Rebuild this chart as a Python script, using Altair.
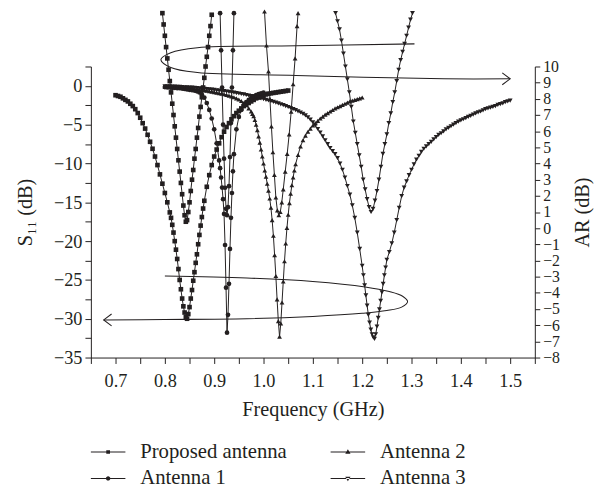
import altair as alt
import pandas as pd

INK = "#231f20"
FONT = "Liberation Serif"


def grid(a, b, step):
    n = int(round((b - a) / step)) + 1
    return [round(a + i * step, 4) for i in range(n)]


NAMES = ["Proposed antenna", "Antenna 1", "Antenna 2", "Antenna 3"]

# ---------------- S11 (dB), left axis ----------------
prop_s11_f = grid(0.700, 0.810, 0.005) + grid(0.8125, 0.8775, 0.0025) + grid(0.880, 1.050, 0.005)
prop_s11 = [-1.2, -1.3, -1.4, -1.6, -1.8, -2.0, -2.3, -2.6, -3.0, -3.5,
            -4.1, -4.8, -5.5, -6.3, -7.2, -8.1, -9.1, -10.2, -11.4, -12.6,
            -13.8, -15.0, -16.3,
            -17.0, -17.9, -18.9, -20.0, -21.1, -22.3, -23.6, -25.0, -26.2, -27.4,
            -28.4, -29.2, -29.8, -30.0, -29.4, -28.5, -27.4, -26.3, -25.1, -24.0,
            -22.8, -21.7, -20.4, -19.2, -18.0, -16.9, -15.8,
            -14.8, -13.0, -11.5, -10.2, -9.1, -8.2, -7.4, -6.6, -5.9, -5.3,
            -4.8, -4.3, -3.9, -3.5, -3.2, -2.9, -2.6, -2.4, -2.2, -2.0,
            -1.8, -1.6, -1.5, -1.35, -1.2, -1.1, -1.0, -0.95, -0.9, -0.85,
            -0.8, -0.75, -0.7, -0.65, -0.6]

ant1_s11_f = grid(0.800, 0.910, 0.005) + grid(0.912, 0.940, 0.002) + grid(0.945, 1.000, 0.005)
ant1_s11 = [-0.15, -0.2, -0.2, -0.25, -0.25, -0.3, -0.3, -0.35, -0.4, -0.45,
            -0.5, -0.55, -0.6, -0.7, -0.85, -1.1, -1.5, -2.2, -3.1, -4.2,
            -5.6, -7.4, -9.6,
            -10.6, -11.8, -13.1, -14.6, -16.5, -20.5, -26.0, -31.8, -29.5, -25.5,
            -21.0, -17.0, -13.8, -11.0, -8.8,
            -5.6, -4.0, -3.1, -2.5, -2.1, -1.8, -1.55, -1.35, -1.2, -1.05,
            -0.95, -0.85]

ant2_s11_f = grid(0.800, 0.975, 0.005) + grid(0.9775, 1.0625, 0.0025) + grid(1.065, 1.200, 0.005)
ant2_s11 = [-0.1, -0.12, -0.14, -0.16, -0.18, -0.2, -0.22, -0.25, -0.28, -0.3,
            -0.33, -0.36, -0.4, -0.44, -0.48, -0.52, -0.57, -0.62, -0.68, -0.74,
            -0.8, -0.87, -0.94, -1.0, -1.08, -1.16, -1.25, -1.35, -1.46, -1.6,
            -1.75, -1.95, -2.2, -2.5, -2.9, -3.3,
            -3.6, -3.9, -4.4, -5.0, -5.7, -6.5, -7.3, -8.2, -9.1, -10.0,
            -10.9, -11.7, -12.6, -13.5, -14.5, -15.7, -17.3, -19.3, -21.8, -24.5,
            -27.5, -30.3, -32.3, -30.6, -27.9, -25.2, -22.6, -20.3, -18.3, -16.6,
            -15.1, -13.9, -12.8, -11.8, -10.9,
            -10.1, -8.9, -7.8, -7.0, -6.4, -5.9, -5.5, -5.1, -4.8, -4.5,
            -4.2, -3.95, -3.7, -3.5, -3.3, -3.1, -2.9, -2.75, -2.6, -2.45,
            -2.3, -2.15, -2.0, -1.9, -1.8, -1.7, -1.6, -1.5]

ant3_s11_f = grid(0.800, 1.200, 0.005) + grid(1.2025, 1.2475, 0.0025) + grid(1.250, 1.500, 0.005)
ant3_s11 = [-0.05, -0.06, -0.07, -0.08, -0.10, -0.11, -0.13, -0.15, -0.17, -0.19,
            -0.21, -0.23, -0.25, -0.28, -0.31, -0.34, -0.37, -0.40, -0.44, -0.48,
            -0.52, -0.56, -0.60, -0.64, -0.68, -0.72, -0.77, -0.82, -0.87, -0.92,
            -0.98, -1.04, -1.10, -1.17, -1.24, -1.31, -1.38, -1.46, -1.54, -1.62,
            -1.70, -1.79, -1.88, -1.97, -2.06, -2.16, -2.26, -2.37, -2.48, -2.60,
            -2.72, -2.85, -2.98, -3.12, -3.27, -3.43, -3.60, -3.80, -4.05, -4.35,
            -4.70, -5.10, -5.55, -6.00, -6.50, -7.00, -7.50, -8.00, -8.40, -8.80,
            -9.30, -10.0, -10.8, -11.8, -12.9, -14.0, -15.4, -17.0, -18.9, -21.0,
            -23.2,
            -24.4, -25.7, -27.0, -28.3, -29.5, -30.5, -31.4, -32.0, -32.4, -32.6,
            -32.0, -31.0, -29.9, -28.8, -27.7, -26.6, -25.5, -24.4, -23.4,
            -22.4, -21.4, -20.3, -18.9, -17.3, -15.7, -14.2, -13.1, -12.3, -11.5,
            -10.8, -10.1, -9.5, -9.0, -8.5, -8.1, -7.8, -7.5, -7.2, -6.9,
            -6.6, -6.3, -6.1, -5.85, -5.6, -5.4, -5.2, -5.0, -4.8, -4.6,
            -4.45, -4.3, -4.15, -4.0, -3.85, -3.7, -3.55, -3.4, -3.3, -3.15,
            -3.0, -2.9, -2.8, -2.7, -2.6, -2.45, -2.35, -2.25, -2.1, -2.0,
            -1.9]

# ---------------- AR (dB), right axis ----------------
prop_ar_f = grid(0.795, 0.895, 0.0025)
prop_ar = [13.3, 12.6, 11.9, 11.2, 10.5, 9.8, 9.1, 8.4, 7.7, 7.0,
           6.3, 5.6, 4.9, 4.2, 3.5, 2.8, 2.1, 1.4, 0.8, 0.4,
           0.5, 1.0, 1.6, 2.3, 3.0, 3.6, 4.3, 4.9, 5.6, 6.2,
           6.9, 7.5, 8.1, 8.7, 9.3, 10.0, 10.6, 11.2, 11.9, 12.5,
           13.2]

ant1_ar_f = grid(0.912, 0.940, 0.002)
ant1_ar = [13.3, 11.0, 8.7, 6.4, 4.3, 2.5, 1.2, 0.8, 1.3, 2.6, 4.4, 6.5, 8.7, 11.0, 13.3]

ant2_ar_f = [1.002, 1.006, 1.010, 1.013, 1.016, 1.019, 1.022, 1.025, 1.028, 1.031,
             1.034, 1.037, 1.040, 1.044, 1.048, 1.052, 1.056, 1.060, 1.064, 1.068, 1.070]
ant2_ar = [13.4, 11.3, 9.7, 8.0, 6.3, 4.7, 3.3, 1.9, 1.1, 0.8,
           1.0, 1.6, 2.4, 3.5, 4.6, 5.8, 7.2, 8.9, 10.5, 12.5, 13.3]

ant3_ar_f = grid(1.146, 1.302, 0.004)
ant3_ar = [13.3, 12.8, 12.3, 11.6, 10.8, 10.0, 9.2, 8.4, 7.5, 6.6,
           5.9, 5.2, 4.5, 3.8, 3.0, 2.4, 1.8, 1.3, 1.0, 1.2,
           1.7, 2.3, 3.0, 3.8, 4.6, 5.2, 5.8, 6.5, 7.1, 7.8,
           8.4, 9.1, 9.8, 10.4, 10.9, 11.4, 11.9, 12.4, 12.9, 13.3]

# ---------------- annotation loops (curve -> axis) ----------------
loop_s11_f = [0.800, 0.966, 1.100, 1.206, 1.255, 1.282, 1.292, 1.280, 1.250, 1.200,
              1.100, 0.966, 0.800, 0.676]
loop_s11_v = [-24.5, -24.75, -25.2, -25.9, -26.5, -27.1, -27.8, -28.5, -28.95, -29.3,
              -29.7, -30.0, -30.1, -30.15]
loop_ar_f = [1.306, 1.066, 0.866, 0.812, 0.792, 0.812, 0.866, 1.066, 1.366, 1.500]
loop_ar_v = [11.40, 11.28, 11.16, 10.85, 10.43, 9.94, 9.63, 9.45, 9.24, 9.24]

x_ticks = grid(0.65, 1.55, 0.05)
left_ticks = grid(-35.0, 2.5, 2.5)
right_ticks = grid(-8.0, 10.0, 1.0)


def long(pairs):
    return pd.concat([pd.DataFrame({"f": f, "v": v, "s": n}) for n, f, v in pairs],
                     ignore_index=True)


s11_df = long([(NAMES[0], prop_s11_f, prop_s11), (NAMES[1], ant1_s11_f, ant1_s11),
               (NAMES[2], ant2_s11_f, ant2_s11), (NAMES[3], ant3_s11_f, ant3_s11)])
ar_df = long([(NAMES[0], prop_ar_f, prop_ar), (NAMES[1], ant1_ar_f, ant1_ar),
              (NAMES[2], ant2_ar_f, ant2_ar), (NAMES[3], ant3_ar_f, ant3_ar)])
loop_s11_df = pd.DataFrame({"f": loop_s11_f, "v": loop_s11_v, "i": range(len(loop_s11_f))})
loop_ar_df = pd.DataFrame({"f": loop_ar_f, "v": loop_ar_v, "i": range(len(loop_ar_f))})
tip_s11_df = loop_s11_df.tail(1)
tip_ar_df = loop_ar_df.tail(1)

shape_scale = alt.Scale(domain=NAMES, range=["square", "circle", "triangle-up", "triangle-down"])
size_scale = alt.Scale(domain=NAMES, range=[22, 24, 36, 36])

X = alt.X("f:Q", scale=alt.Scale(domain=[0.65, 1.55], nice=False, zero=False),
          axis=alt.Axis(title="Frequency (GHz)", values=x_ticks,
                        labelExpr="round(datum.value*100) % 10 == 0 ? format(datum.value, '.1f') : ''",
                        tickSize=6, labelPadding=8, titlePadding=10, labelFontSize=18.5,
                        titleFontSize=20.5, labelOverlap=False, labelFlush=False))
YL = alt.Y("v:Q", scale=alt.Scale(domain=[-35, 2.5], nice=False, zero=False),
           axis=alt.Axis(title="S₁₁ (dB)", values=left_ticks,
                         labelExpr="round(datum.value*10) % 50 == 0 ? format(datum.value, 'd') : ''",
                         tickSize=6, labelPadding=3, titlePadding=18, labelFontSize=18.5,
                         titleFontSize=20.5, labelOverlap=False, labelFlush=False))
YR = alt.Y("v:Q", scale=alt.Scale(domain=[-8, 10], nice=False, zero=False),
           axis=alt.Axis(orient="right", title="AR (dB)", values=right_ticks, format="d",
                         tickSize=5, labelPadding=3, titlePadding=13, labelFontSize=16,
                         titleFontSize=20.5, titleAngle=270, titleBaseline="top",
                         labelOverlap=False, labelFlush=False))


def curves(df, Y):
    line = alt.Chart(df).mark_line(color=INK, strokeWidth=1).encode(x=X, y=Y, detail="s:N")
    pts = alt.Chart(df).mark_point(filled=True, opacity=1, color=INK).encode(
        x=X, y=Y,
        shape=alt.Shape("s:N", scale=shape_scale, legend=None),
        size=alt.Size("s:N", scale=size_scale, legend=None))
    return [line, pts]


def loop(df, tip, Y, head):
    ring = alt.Chart(df).mark_line(color=INK, strokeWidth=1.05, interpolate="catmull-rom").encode(
        x=X, y=Y, order="i:Q")
    arrow = alt.Chart(tip).mark_point(shape=head, filled=False, size=256, color=INK,
                                      strokeWidth=1.05, opacity=1).encode(x=X, y=Y)
    return [ring, arrow]


left = alt.layer(*curves(s11_df, YL), *loop(loop_s11_df, tip_s11_df, YL, "M1,-0.75L0,0L1,0.75"))
right = alt.layer(*curves(ar_df, YR), *loop(loop_ar_df, tip_ar_df, YR, "M-1,-0.75L0,0L-1,0.75"))

# legend glyphs "—■—": a thin filled bar plus the marker (all filled)
BAR = "M-2.5,-0.075H2.5V0.075H-2.5Z"
LEG_PATHS = [
    BAR + "M-0.27,-0.27H0.27V0.27H-0.27Z",
    BAR + "M0.32,0A0.32,0.32,0,1,1,-0.32,0A0.32,0.32,0,1,1,0.32,0Z",
    BAR + "M0,-0.4L0.38,0.25H-0.38Z",
    BAR + "M0,0.4L0.38,-0.25H-0.38Z",
]
legend_layer = alt.Chart(s11_df).transform_filter("false").mark_point(
    filled=True, opacity=1, color=INK, size=196
).encode(
    shape=alt.Shape("s:N", scale=alt.Scale(domain=NAMES, range=LEG_PATHS),
                    legend=alt.Legend(title=None, orient="none", legendX=7, legendY=380,
                                      columns=2, columnPadding=44, rowPadding=5,
                                      labelFont=FONT, labelFontSize=21, labelColor=INK,
                                      labelOffset=22, symbolSize=196, symbolStrokeWidth=0,
                                      symbolFillColor=INK, padding=0))
)

chart = alt.layer(left, right, legend_layer).resolve_scale(
    y="independent", shape="independent", size="independent"
).properties(
    width=450, height=295,
    autosize=alt.AutoSizeParams(type="none"),
    padding={"left": 84, "top": 56, "right": 62, "bottom": 134},
).configure_view(stroke=None).configure_axis(
    domainColor=INK, tickColor=INK, labelColor=INK, titleColor=INK,
    labelFont=FONT, titleFont=FONT, titleFontWeight="normal", grid=False,
    domainWidth=1, tickWidth=1,
)

chart.save("out.html", embed_options={"renderer": "svg", "actions": False})
